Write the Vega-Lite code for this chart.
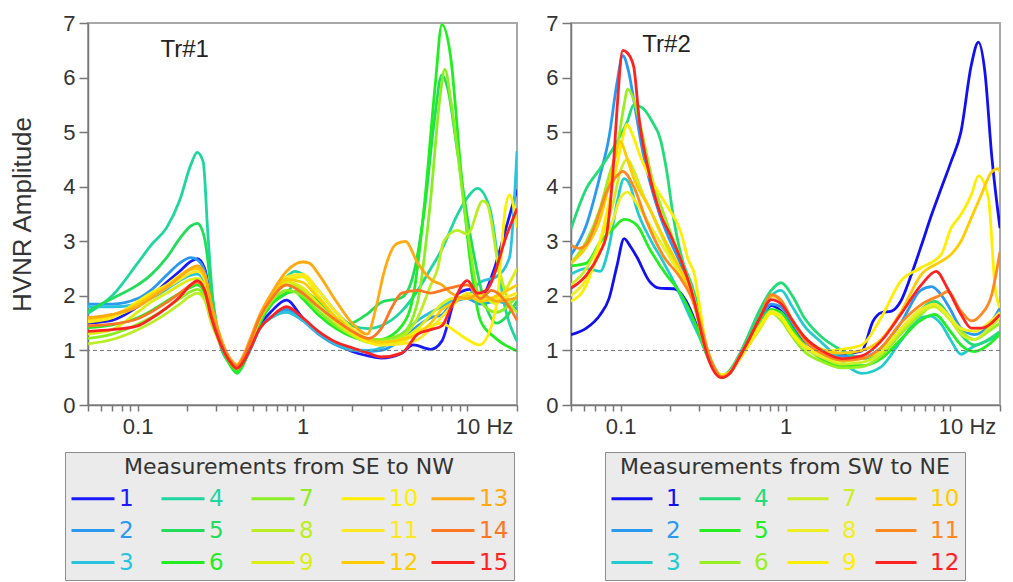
{
  "$schema": "https://vega.github.io/schema/vega-lite/v6.json",
  "background": "white",
  "padding": {"left": 8, "top": 11, "right": 5, "bottom": 0},
  "bounds": "flush",
  "spacing": 54,
  "datasets": {
    "tr1": [
      {"s":"1","f":0.05,"a":1.5},{"s":"1","f":0.07,"a":1.55},{"s":"1","f":0.1,"a":1.8},{"s":"1","f":0.12,"a":1.98},{"s":"1","f":0.15,"a":2.25},{"s":"1","f":0.18,"a":2.45},{"s":"1","f":0.21,"a":2.63},{"s":"1","f":0.23,"a":2.68},{"s":"1","f":0.255,"a":2.5},{"s":"1","f":0.28,"a":1.85},{"s":"1","f":0.31,"a":1.3},{"s":"1","f":0.37,"a":0.78},{"s":"1","f":0.4,"a":0.68},{"s":"1","f":0.44,"a":0.8},{"s":"1","f":0.48,"a":1.05},{"s":"1","f":0.55,"a":1.45},{"s":"1","f":0.65,"a":1.72},{"s":"1","f":0.8,"a":1.92},{"s":"1","f":1,"a":1.6},{"s":"1","f":1.25,"a":1.32},{"s":"1","f":1.6,"a":1.12},{"s":"1","f":2,"a":0.98},{"s":"1","f":2.5,"a":0.9},{"s":"1","f":3,"a":0.86},{"s":"1","f":4,"a":0.95},{"s":"1","f":4.7,"a":1.1},{"s":"1","f":6,"a":1.02},{"s":"1","f":7,"a":1.17},{"s":"1","f":8.7,"a":2.03},{"s":"1","f":10.4,"a":2.12},{"s":"1","f":12,"a":1.96},{"s":"1","f":14.4,"a":2.45},{"s":"1","f":17,"a":3.2},{"s":"1","f":20,"a":3.95},
      {"s":"2","f":0.05,"a":1.85},{"s":"2","f":0.07,"a":1.85},{"s":"2","f":0.1,"a":1.95},{"s":"2","f":0.12,"a":2.1},{"s":"2","f":0.15,"a":2.38},{"s":"2","f":0.18,"a":2.6},{"s":"2","f":0.21,"a":2.7},{"s":"2","f":0.23,"a":2.66},{"s":"2","f":0.255,"a":2.45},{"s":"2","f":0.28,"a":1.8},{"s":"2","f":0.31,"a":1.28},{"s":"2","f":0.37,"a":0.76},{"s":"2","f":0.4,"a":0.67},{"s":"2","f":0.44,"a":0.78},{"s":"2","f":0.48,"a":1.0},{"s":"2","f":0.55,"a":1.4},{"s":"2","f":0.65,"a":1.62},{"s":"2","f":0.8,"a":1.75},{"s":"2","f":1,"a":1.55},{"s":"2","f":1.25,"a":1.3},{"s":"2","f":1.6,"a":1.1},{"s":"2","f":2,"a":1.0},{"s":"2","f":2.5,"a":0.98},{"s":"2","f":3,"a":1.0},{"s":"2","f":4,"a":1.2},{"s":"2","f":5,"a":1.45},{"s":"2","f":6,"a":1.6},{"s":"2","f":7,"a":1.65},{"s":"2","f":8,"a":1.85},{"s":"2","f":10,"a":1.95},{"s":"2","f":12,"a":1.85},{"s":"2","f":15,"a":1.9},{"s":"2","f":20,"a":1.75},
      {"s":"3","f":0.05,"a":1.8},{"s":"3","f":0.07,"a":1.8},{"s":"3","f":0.1,"a":1.85},{"s":"3","f":0.12,"a":1.95},{"s":"3","f":0.15,"a":2.12},{"s":"3","f":0.18,"a":2.28},{"s":"3","f":0.21,"a":2.38},{"s":"3","f":0.23,"a":2.4},{"s":"3","f":0.255,"a":2.25},{"s":"3","f":0.28,"a":1.7},{"s":"3","f":0.31,"a":1.25},{"s":"3","f":0.37,"a":0.75},{"s":"3","f":0.4,"a":0.66},{"s":"3","f":0.44,"a":0.78},{"s":"3","f":0.48,"a":1.0},{"s":"3","f":0.55,"a":1.4},{"s":"3","f":0.65,"a":1.6},{"s":"3","f":0.8,"a":1.7},{"s":"3","f":1,"a":1.55},{"s":"3","f":1.25,"a":1.32},{"s":"3","f":1.6,"a":1.12},{"s":"3","f":2,"a":1.02},{"s":"3","f":2.5,"a":1.0},{"s":"3","f":3,"a":1.05},{"s":"3","f":4,"a":1.3},{"s":"3","f":5,"a":1.55},{"s":"3","f":6,"a":1.7},{"s":"3","f":7,"a":1.8},{"s":"3","f":8,"a":1.9},{"s":"3","f":10,"a":2.0},{"s":"3","f":12,"a":2.25},{"s":"3","f":15,"a":2.35},{"s":"3","f":18,"a":2.7},{"s":"3","f":20,"a":4.65},
      {"s":"4","f":0.05,"a":1.68},{"s":"4","f":0.07,"a":2.0},{"s":"4","f":0.1,"a":2.6},{"s":"4","f":0.12,"a":2.92},{"s":"4","f":0.15,"a":3.25},{"s":"4","f":0.18,"a":3.75},{"s":"4","f":0.21,"a":4.4},{"s":"4","f":0.23,"a":4.63},{"s":"4","f":0.25,"a":4.45},{"s":"4","f":0.266,"a":3.19},{"s":"4","f":0.285,"a":1.96},{"s":"4","f":0.31,"a":1.2},{"s":"4","f":0.37,"a":0.72},{"s":"4","f":0.4,"a":0.62},{"s":"4","f":0.44,"a":0.8},{"s":"4","f":0.48,"a":1.1},{"s":"4","f":0.55,"a":1.6},{"s":"4","f":0.65,"a":2.0},{"s":"4","f":0.8,"a":2.35},{"s":"4","f":0.9,"a":2.45},{"s":"4","f":1,"a":2.4},{"s":"4","f":1.25,"a":2.1},{"s":"4","f":1.6,"a":1.7},{"s":"4","f":2,"a":1.45},{"s":"4","f":2.5,"a":1.4},{"s":"4","f":3,"a":1.45},{"s":"4","f":4,"a":1.72},{"s":"4","f":5,"a":2.1},{"s":"4","f":6,"a":2.5},{"s":"4","f":7,"a":2.85},{"s":"4","f":8.7,"a":3.49},{"s":"4","f":10,"a":3.8},{"s":"4","f":11.5,"a":3.97},{"s":"4","f":13.7,"a":3.6},{"s":"4","f":16.6,"a":1.9},{"s":"4","f":20,"a":1.17},
      {"s":"5","f":0.05,"a":1.72},{"s":"5","f":0.07,"a":1.95},{"s":"5","f":0.1,"a":2.2},{"s":"5","f":0.12,"a":2.38},{"s":"5","f":0.15,"a":2.7},{"s":"5","f":0.18,"a":3.05},{"s":"5","f":0.21,"a":3.28},{"s":"5","f":0.23,"a":3.33},{"s":"5","f":0.255,"a":3.05},{"s":"5","f":0.28,"a":2.1},{"s":"5","f":0.31,"a":1.3},{"s":"5","f":0.37,"a":0.7},{"s":"5","f":0.4,"a":0.58},{"s":"5","f":0.44,"a":0.75},{"s":"5","f":0.48,"a":1.05},{"s":"5","f":0.55,"a":1.5},{"s":"5","f":0.65,"a":1.85},{"s":"5","f":0.8,"a":2.05},{"s":"5","f":0.9,"a":2.2},{"s":"5","f":1,"a":2.12},{"s":"5","f":1.25,"a":1.9},{"s":"5","f":1.6,"a":1.6},{"s":"5","f":1.87,"a":1.48},{"s":"5","f":2.5,"a":1.68},{"s":"5","f":3,"a":1.88},{"s":"5","f":4,"a":1.97},{"s":"5","f":4.8,"a":2.5},{"s":"5","f":5.5,"a":3.6},{"s":"5","f":6.3,"a":5.2},{"s":"5","f":7,"a":6.05},{"s":"5","f":7.6,"a":5.8},{"s":"5","f":8.7,"a":4.65},{"s":"5","f":10.4,"a":3.12},{"s":"5","f":13,"a":1.8},{"s":"5","f":15,"a":1.5},{"s":"5","f":17,"a":1.6},{"s":"5","f":20,"a":1.9},
      {"s":"6","f":0.05,"a":1.42},{"s":"6","f":0.07,"a":1.47},{"s":"6","f":0.1,"a":1.6},{"s":"6","f":0.12,"a":1.72},{"s":"6","f":0.15,"a":1.9},{"s":"6","f":0.18,"a":2.05},{"s":"6","f":0.21,"a":2.16},{"s":"6","f":0.23,"a":2.2},{"s":"6","f":0.255,"a":2.05},{"s":"6","f":0.28,"a":1.6},{"s":"6","f":0.31,"a":1.2},{"s":"6","f":0.37,"a":0.7},{"s":"6","f":0.4,"a":0.6},{"s":"6","f":0.44,"a":0.78},{"s":"6","f":0.48,"a":1.05},{"s":"6","f":0.55,"a":1.5},{"s":"6","f":0.65,"a":1.85},{"s":"6","f":0.8,"a":2.05},{"s":"6","f":0.9,"a":2.08},{"s":"6","f":1,"a":1.95},{"s":"6","f":1.25,"a":1.65},{"s":"6","f":1.6,"a":1.4},{"s":"6","f":2,"a":1.25},{"s":"6","f":2.5,"a":1.18},{"s":"6","f":3,"a":1.2},{"s":"6","f":4,"a":1.45},{"s":"6","f":4.7,"a":2.0},{"s":"6","f":5.5,"a":3.7},{"s":"6","f":6.4,"a":5.9},{"s":"6","f":7,"a":6.97},{"s":"6","f":7.9,"a":6.4},{"s":"6","f":9.1,"a":4.35},{"s":"6","f":10.4,"a":2.65},{"s":"6","f":12,"a":1.55},{"s":"6","f":14.5,"a":1.25},{"s":"6","f":20,"a":0.99},
      {"s":"7","f":0.05,"a":1.22},{"s":"7","f":0.07,"a":1.3},{"s":"7","f":0.1,"a":1.48},{"s":"7","f":0.12,"a":1.6},{"s":"7","f":0.15,"a":1.78},{"s":"7","f":0.18,"a":1.95},{"s":"7","f":0.21,"a":2.08},{"s":"7","f":0.23,"a":2.12},{"s":"7","f":0.255,"a":1.98},{"s":"7","f":0.28,"a":1.55},{"s":"7","f":0.31,"a":1.2},{"s":"7","f":0.37,"a":0.75},{"s":"7","f":0.4,"a":0.66},{"s":"7","f":0.44,"a":0.85},{"s":"7","f":0.48,"a":1.1},{"s":"7","f":0.55,"a":1.55},{"s":"7","f":0.65,"a":1.9},{"s":"7","f":0.8,"a":2.1},{"s":"7","f":1,"a":2.0},{"s":"7","f":1.25,"a":1.72},{"s":"7","f":1.6,"a":1.45},{"s":"7","f":2,"a":1.28},{"s":"7","f":2.5,"a":1.2},{"s":"7","f":3,"a":1.2},{"s":"7","f":4,"a":1.3},{"s":"7","f":5,"a":1.9},{"s":"7","f":6,"a":3.8},{"s":"7","f":6.8,"a":5.6},{"s":"7","f":7.3,"a":6.15},{"s":"7","f":8,"a":5.5},{"s":"7","f":10,"a":3.2},{"s":"7","f":12,"a":1.9},{"s":"7","f":15,"a":1.7},{"s":"7","f":20,"a":2.0},
      {"s":"8","f":0.05,"a":1.12},{"s":"8","f":0.07,"a":1.2},{"s":"8","f":0.1,"a":1.38},{"s":"8","f":0.12,"a":1.5},{"s":"8","f":0.15,"a":1.68},{"s":"8","f":0.18,"a":1.85},{"s":"8","f":0.21,"a":2.0},{"s":"8","f":0.23,"a":2.05},{"s":"8","f":0.255,"a":1.92},{"s":"8","f":0.28,"a":1.5},{"s":"8","f":0.31,"a":1.18},{"s":"8","f":0.37,"a":0.76},{"s":"8","f":0.4,"a":0.67},{"s":"8","f":0.44,"a":0.86},{"s":"8","f":0.48,"a":1.12},{"s":"8","f":0.55,"a":1.58},{"s":"8","f":0.65,"a":1.95},{"s":"8","f":0.8,"a":2.2},{"s":"8","f":1,"a":2.1},{"s":"8","f":1.25,"a":1.8},{"s":"8","f":1.6,"a":1.5},{"s":"8","f":2,"a":1.28},{"s":"8","f":2.5,"a":1.15},{"s":"8","f":3,"a":1.15},{"s":"8","f":4,"a":1.25},{"s":"8","f":5,"a":1.6},{"s":"8","f":6,"a":2.2},{"s":"8","f":6.6,"a":2.5},{"s":"8","f":7.2,"a":3.0},{"s":"8","f":8.7,"a":3.2},{"s":"8","f":10,"a":3.13},{"s":"8","f":12.4,"a":3.74},{"s":"8","f":13.2,"a":3.68},{"s":"8","f":15.5,"a":2.52},{"s":"8","f":17.8,"a":1.9},{"s":"8","f":20,"a":1.7},
      {"s":"9","f":0.05,"a":1.3},{"s":"9","f":0.07,"a":1.38},{"s":"9","f":0.1,"a":1.7},{"s":"9","f":0.12,"a":1.88},{"s":"9","f":0.15,"a":2.05},{"s":"9","f":0.18,"a":2.2},{"s":"9","f":0.21,"a":2.3},{"s":"9","f":0.23,"a":2.32},{"s":"9","f":0.255,"a":2.18},{"s":"9","f":0.28,"a":1.65},{"s":"9","f":0.31,"a":1.25},{"s":"9","f":0.37,"a":0.77},{"s":"9","f":0.4,"a":0.68},{"s":"9","f":0.44,"a":0.86},{"s":"9","f":0.48,"a":1.12},{"s":"9","f":0.55,"a":1.6},{"s":"9","f":0.65,"a":1.95},{"s":"9","f":0.8,"a":2.25},{"s":"9","f":1,"a":2.15},{"s":"9","f":1.25,"a":1.85},{"s":"9","f":1.6,"a":1.52},{"s":"9","f":2,"a":1.3},{"s":"9","f":2.5,"a":1.15},{"s":"9","f":3,"a":1.1},{"s":"9","f":4,"a":1.2},{"s":"9","f":5,"a":1.4},{"s":"9","f":6,"a":1.65},{"s":"9","f":7,"a":1.85},{"s":"9","f":8,"a":1.95},{"s":"9","f":10,"a":1.95},{"s":"9","f":12,"a":2.0},{"s":"9","f":15,"a":1.85},{"s":"9","f":17,"a":2.1},{"s":"9","f":20,"a":2.5},
      {"s":"10","f":0.05,"a":1.52},{"s":"10","f":0.07,"a":1.6},{"s":"10","f":0.1,"a":1.9},{"s":"10","f":0.12,"a":2.05},{"s":"10","f":0.15,"a":2.2},{"s":"10","f":0.18,"a":2.38},{"s":"10","f":0.21,"a":2.5},{"s":"10","f":0.23,"a":2.55},{"s":"10","f":0.255,"a":2.38},{"s":"10","f":0.28,"a":1.8},{"s":"10","f":0.31,"a":1.3},{"s":"10","f":0.37,"a":0.8},{"s":"10","f":0.4,"a":0.72},{"s":"10","f":0.44,"a":0.9},{"s":"10","f":0.48,"a":1.15},{"s":"10","f":0.55,"a":1.6},{"s":"10","f":0.65,"a":2.0},{"s":"10","f":0.8,"a":2.3},{"s":"10","f":1,"a":2.35},{"s":"10","f":1.25,"a":2.0},{"s":"10","f":1.6,"a":1.6},{"s":"10","f":2,"a":1.35},{"s":"10","f":2.5,"a":1.15},{"s":"10","f":3,"a":1.1},{"s":"10","f":4,"a":1.15},{"s":"10","f":5,"a":1.35},{"s":"10","f":6,"a":1.45},{"s":"10","f":7,"a":1.5},{"s":"10","f":8,"a":1.4},{"s":"10","f":10,"a":1.2},{"s":"10","f":11.8,"a":1.1},{"s":"10","f":14,"a":1.45},{"s":"10","f":15.2,"a":1.93},{"s":"10","f":17,"a":3.6},{"s":"10","f":18,"a":3.85},{"s":"10","f":20,"a":3.25},
      {"s":"11","f":0.05,"a":1.55},{"s":"11","f":0.07,"a":1.62},{"s":"11","f":0.1,"a":1.82},{"s":"11","f":0.12,"a":1.98},{"s":"11","f":0.15,"a":2.15},{"s":"11","f":0.18,"a":2.3},{"s":"11","f":0.21,"a":2.42},{"s":"11","f":0.23,"a":2.45},{"s":"11","f":0.255,"a":2.3},{"s":"11","f":0.28,"a":1.75},{"s":"11","f":0.31,"a":1.28},{"s":"11","f":0.37,"a":0.8},{"s":"11","f":0.4,"a":0.7},{"s":"11","f":0.44,"a":0.88},{"s":"11","f":0.48,"a":1.14},{"s":"11","f":0.55,"a":1.6},{"s":"11","f":0.65,"a":2.0},{"s":"11","f":0.8,"a":2.35},{"s":"11","f":1,"a":2.4},{"s":"11","f":1.25,"a":2.1},{"s":"11","f":1.6,"a":1.7},{"s":"11","f":2,"a":1.4},{"s":"11","f":2.5,"a":1.2},{"s":"11","f":3,"a":1.1},{"s":"11","f":4,"a":1.12},{"s":"11","f":5,"a":1.2},{"s":"11","f":6,"a":1.4},{"s":"11","f":8,"a":1.8},{"s":"11","f":10,"a":2.05},{"s":"11","f":12,"a":1.95},{"s":"11","f":15,"a":1.95},{"s":"11","f":20,"a":2.05},
      {"s":"12","f":0.05,"a":1.58},{"s":"12","f":0.07,"a":1.65},{"s":"12","f":0.1,"a":1.85},{"s":"12","f":0.12,"a":2.0},{"s":"12","f":0.15,"a":2.18},{"s":"12","f":0.18,"a":2.35},{"s":"12","f":0.21,"a":2.48},{"s":"12","f":0.23,"a":2.5},{"s":"12","f":0.255,"a":2.35},{"s":"12","f":0.28,"a":1.78},{"s":"12","f":0.31,"a":1.3},{"s":"12","f":0.37,"a":0.8},{"s":"12","f":0.4,"a":0.71},{"s":"12","f":0.44,"a":0.9},{"s":"12","f":0.48,"a":1.15},{"s":"12","f":0.55,"a":1.6},{"s":"12","f":0.65,"a":1.98},{"s":"12","f":0.8,"a":2.3},{"s":"12","f":1,"a":2.25},{"s":"12","f":1.25,"a":1.95},{"s":"12","f":1.6,"a":1.6},{"s":"12","f":2,"a":1.35},{"s":"12","f":2.5,"a":1.2},{"s":"12","f":3,"a":1.15},{"s":"12","f":4,"a":1.2},{"s":"12","f":5,"a":1.3},{"s":"12","f":6,"a":1.5},{"s":"12","f":7,"a":1.75},{"s":"12","f":8,"a":1.85},{"s":"12","f":10,"a":2.0},{"s":"12","f":12,"a":1.9},{"s":"12","f":15,"a":2.0},{"s":"12","f":20,"a":2.2},
      {"s":"13","f":0.05,"a":1.6},{"s":"13","f":0.07,"a":1.66},{"s":"13","f":0.1,"a":1.8},{"s":"13","f":0.12,"a":1.95},{"s":"13","f":0.15,"a":2.15},{"s":"13","f":0.18,"a":2.35},{"s":"13","f":0.21,"a":2.5},{"s":"13","f":0.23,"a":2.55},{"s":"13","f":0.255,"a":2.4},{"s":"13","f":0.28,"a":1.85},{"s":"13","f":0.31,"a":1.35},{"s":"13","f":0.37,"a":0.82},{"s":"13","f":0.4,"a":0.74},{"s":"13","f":0.44,"a":0.92},{"s":"13","f":0.48,"a":1.2},{"s":"13","f":0.55,"a":1.65},{"s":"13","f":0.65,"a":2.05},{"s":"13","f":0.8,"a":2.45},{"s":"13","f":1,"a":2.62},{"s":"13","f":1.1,"a":2.6},{"s":"13","f":1.25,"a":2.4},{"s":"13","f":1.6,"a":1.9},{"s":"13","f":2,"a":1.5},{"s":"13","f":2.47,"a":1.3},{"s":"13","f":2.8,"a":1.8},{"s":"13","f":3.1,"a":2.4},{"s":"13","f":3.7,"a":2.95},{"s":"13","f":4.2,"a":3.0},{"s":"13","f":5,"a":2.6},{"s":"13","f":6,"a":2.3},{"s":"13","f":7,"a":2.2},{"s":"13","f":8,"a":2.05},{"s":"13","f":10,"a":1.95},{"s":"13","f":12,"a":2.05},{"s":"13","f":15,"a":1.9},{"s":"13","f":20,"a":1.97},
      {"s":"14","f":0.05,"a":1.45},{"s":"14","f":0.07,"a":1.48},{"s":"14","f":0.1,"a":1.58},{"s":"14","f":0.12,"a":1.7},{"s":"14","f":0.15,"a":1.88},{"s":"14","f":0.18,"a":2.05},{"s":"14","f":0.21,"a":2.2},{"s":"14","f":0.23,"a":2.25},{"s":"14","f":0.255,"a":2.1},{"s":"14","f":0.28,"a":1.65},{"s":"14","f":0.31,"a":1.25},{"s":"14","f":0.37,"a":0.78},{"s":"14","f":0.4,"a":0.7},{"s":"14","f":0.44,"a":0.88},{"s":"14","f":0.48,"a":1.15},{"s":"14","f":0.55,"a":1.6},{"s":"14","f":0.65,"a":1.95},{"s":"14","f":0.8,"a":2.2},{"s":"14","f":1,"a":2.05},{"s":"14","f":1.25,"a":1.8},{"s":"14","f":1.6,"a":1.55},{"s":"14","f":2,"a":1.35},{"s":"14","f":2.5,"a":1.22},{"s":"14","f":3,"a":1.4},{"s":"14","f":3.5,"a":1.8},{"s":"14","f":4,"a":2.05},{"s":"14","f":5,"a":2.1},{"s":"14","f":6,"a":2.05},{"s":"14","f":7,"a":2.1},{"s":"14","f":8,"a":2.15},{"s":"14","f":10,"a":2.2},{"s":"14","f":12,"a":1.95},{"s":"14","f":14,"a":2.1},{"s":"14","f":17,"a":1.9},{"s":"14","f":20,"a":1.55},
      {"s":"15","f":0.05,"a":1.35},{"s":"15","f":0.07,"a":1.38},{"s":"15","f":0.1,"a":1.45},{"s":"15","f":0.12,"a":1.58},{"s":"15","f":0.15,"a":1.78},{"s":"15","f":0.18,"a":1.98},{"s":"15","f":0.21,"a":2.2},{"s":"15","f":0.23,"a":2.28},{"s":"15","f":0.255,"a":2.1},{"s":"15","f":0.28,"a":1.6},{"s":"15","f":0.31,"a":1.2},{"s":"15","f":0.37,"a":0.76},{"s":"15","f":0.4,"a":0.67},{"s":"15","f":0.44,"a":0.8},{"s":"15","f":0.48,"a":1.02},{"s":"15","f":0.55,"a":1.4},{"s":"15","f":0.65,"a":1.62},{"s":"15","f":0.8,"a":1.8},{"s":"15","f":1,"a":1.6},{"s":"15","f":1.25,"a":1.35},{"s":"15","f":1.6,"a":1.15},{"s":"15","f":2,"a":1.05},{"s":"15","f":2.5,"a":0.95},{"s":"15","f":3,"a":0.88},{"s":"15","f":4,"a":0.95},{"s":"15","f":5,"a":1.3},{"s":"15","f":6,"a":1.38},{"s":"15","f":7,"a":1.45},{"s":"15","f":8,"a":1.8},{"s":"15","f":10,"a":2.28},{"s":"15","f":11.5,"a":2.05},{"s":"15","f":13,"a":2.1},{"s":"15","f":17.5,"a":3.15},{"s":"15","f":20,"a":3.6}
    ],
    "tr2": [
      {"s":"1","f":0.05,"a":1.29},{"s":"1","f":0.062,"a":1.41},{"s":"1","f":0.075,"a":1.65},{"s":"1","f":0.085,"a":1.95},{"s":"1","f":0.095,"a":2.55},{"s":"1","f":0.105,"a":3.05},{"s":"1","f":0.115,"a":2.9},{"s":"1","f":0.125,"a":2.72},{"s":"1","f":0.15,"a":2.26},{"s":"1","f":0.172,"a":2.14},{"s":"1","f":0.21,"a":2.13},{"s":"1","f":0.25,"a":1.9},{"s":"1","f":0.29,"a":1.45},{"s":"1","f":0.33,"a":0.98},{"s":"1","f":0.37,"a":0.66},{"s":"1","f":0.41,"a":0.52},{"s":"1","f":0.46,"a":0.6},{"s":"1","f":0.52,"a":0.82},{"s":"1","f":0.6,"a":1.15},{"s":"1","f":0.7,"a":1.5},{"s":"1","f":0.82,"a":1.82},{"s":"1","f":0.94,"a":1.72},{"s":"1","f":1.1,"a":1.45},{"s":"1","f":1.3,"a":1.18},{"s":"1","f":1.65,"a":0.98},{"s":"1","f":2.2,"a":0.93},{"s":"1","f":2.9,"a":0.99},{"s":"1","f":3.4,"a":1.54},{"s":"1","f":3.8,"a":1.69},{"s":"1","f":4.4,"a":1.72},{"s":"1","f":5,"a":1.9},{"s":"1","f":5.8,"a":2.39},{"s":"1","f":6.7,"a":2.94},{"s":"1","f":7.7,"a":3.49},{"s":"1","f":8.8,"a":3.97},{"s":"1","f":10.1,"a":4.46},{"s":"1","f":11.6,"a":5.01},{"s":"1","f":13.4,"a":6.23},{"s":"1","f":14.8,"a":6.65},{"s":"1","f":16.2,"a":6.1},{"s":"1","f":17.8,"a":4.58},{"s":"1","f":20,"a":3.24},
      {"s":"2","f":0.05,"a":2.75},{"s":"2","f":0.062,"a":3.3},{"s":"2","f":0.075,"a":4.2},{"s":"2","f":0.085,"a":4.9},{"s":"2","f":0.095,"a":5.9},{"s":"2","f":0.103,"a":6.4},{"s":"2","f":0.112,"a":6.1},{"s":"2","f":0.12,"a":5.6},{"s":"2","f":0.135,"a":4.7},{"s":"2","f":0.15,"a":4.1},{"s":"2","f":0.172,"a":3.5},{"s":"2","f":0.2,"a":3.0},{"s":"2","f":0.23,"a":2.6},{"s":"2","f":0.26,"a":2.15},{"s":"2","f":0.3,"a":1.5},{"s":"2","f":0.33,"a":1.0},{"s":"2","f":0.37,"a":0.66},{"s":"2","f":0.41,"a":0.52},{"s":"2","f":0.46,"a":0.6},{"s":"2","f":0.52,"a":0.85},{"s":"2","f":0.6,"a":1.2},{"s":"2","f":0.7,"a":1.55},{"s":"2","f":0.82,"a":1.85},{"s":"2","f":0.94,"a":1.8},{"s":"2","f":1.1,"a":1.5},{"s":"2","f":1.3,"a":1.2},{"s":"2","f":1.65,"a":1.0},{"s":"2","f":2.2,"a":0.9},{"s":"2","f":2.9,"a":0.88},{"s":"2","f":3.8,"a":1.05},{"s":"2","f":5,"a":1.5},{"s":"2","f":6.6,"a":2.1},{"s":"2","f":7.7,"a":2.17},{"s":"2","f":8.8,"a":2.02},{"s":"2","f":10,"a":1.75},{"s":"2","f":11.6,"a":1.41},{"s":"2","f":14,"a":1.29},{"s":"2","f":17,"a":1.45},{"s":"2","f":20,"a":1.78},
      {"s":"3","f":0.05,"a":2.4},{"s":"3","f":0.062,"a":2.5},{"s":"3","f":0.075,"a":2.45},{"s":"3","f":0.085,"a":2.9},{"s":"3","f":0.095,"a":3.7},{"s":"3","f":0.105,"a":4.15},{"s":"3","f":0.115,"a":4.0},{"s":"3","f":0.125,"a":3.6},{"s":"3","f":0.15,"a":3.06},{"s":"3","f":0.18,"a":2.64},{"s":"3","f":0.22,"a":2.14},{"s":"3","f":0.26,"a":1.65},{"s":"3","f":0.3,"a":1.25},{"s":"3","f":0.33,"a":0.95},{"s":"3","f":0.37,"a":0.65},{"s":"3","f":0.41,"a":0.52},{"s":"3","f":0.46,"a":0.62},{"s":"3","f":0.52,"a":0.88},{"s":"3","f":0.6,"a":1.25},{"s":"3","f":0.7,"a":1.65},{"s":"3","f":0.82,"a":2.0},{"s":"3","f":0.94,"a":2.1},{"s":"3","f":1.1,"a":1.8},{"s":"3","f":1.3,"a":1.45},{"s":"3","f":1.65,"a":1.15},{"s":"3","f":2.2,"a":0.8},{"s":"3","f":2.9,"a":0.58},{"s":"3","f":3.8,"a":0.7},{"s":"3","f":5,"a":1.17},{"s":"3","f":6.6,"a":1.6},{"s":"3","f":7.6,"a":1.63},{"s":"3","f":8.8,"a":1.48},{"s":"3","f":10,"a":1.2},{"s":"3","f":11.6,"a":0.93},{"s":"3","f":13.4,"a":1.05},{"s":"3","f":16,"a":1.15},{"s":"3","f":20,"a":1.29},
      {"s":"4","f":0.05,"a":3.23},{"s":"4","f":0.062,"a":3.97},{"s":"4","f":0.075,"a":4.33},{"s":"4","f":0.09,"a":4.7},{"s":"4","f":0.1,"a":4.95},{"s":"4","f":0.11,"a":5.2},{"s":"4","f":0.12,"a":5.5},{"s":"4","f":0.135,"a":5.45},{"s":"4","f":0.155,"a":5.2},{"s":"4","f":0.175,"a":4.85},{"s":"4","f":0.19,"a":4.3},{"s":"4","f":0.21,"a":3.4},{"s":"4","f":0.24,"a":2.6},{"s":"4","f":0.27,"a":2.2},{"s":"4","f":0.3,"a":1.7},{"s":"4","f":0.33,"a":1.1},{"s":"4","f":0.37,"a":0.7},{"s":"4","f":0.41,"a":0.54},{"s":"4","f":0.46,"a":0.64},{"s":"4","f":0.52,"a":0.9},{"s":"4","f":0.6,"a":1.3},{"s":"4","f":0.7,"a":1.75},{"s":"4","f":0.82,"a":2.1},{"s":"4","f":0.94,"a":2.24},{"s":"4","f":1.1,"a":2.0},{"s":"4","f":1.3,"a":1.6},{"s":"4","f":1.65,"a":1.25},{"s":"4","f":2.2,"a":1.0},{"s":"4","f":2.9,"a":0.85},{"s":"4","f":3.8,"a":0.95},{"s":"4","f":5,"a":1.35},{"s":"4","f":6.6,"a":1.75},{"s":"4","f":8,"a":1.9},{"s":"4","f":10,"a":1.6},{"s":"4","f":11.6,"a":1.29},{"s":"4","f":14,"a":1.1},{"s":"4","f":17,"a":1.2},{"s":"4","f":20,"a":1.35},
      {"s":"5","f":0.05,"a":2.55},{"s":"5","f":0.062,"a":2.6},{"s":"5","f":0.075,"a":2.98},{"s":"5","f":0.09,"a":3.23},{"s":"5","f":0.105,"a":3.4},{"s":"5","f":0.125,"a":3.3},{"s":"5","f":0.15,"a":2.86},{"s":"5","f":0.19,"a":2.38},{"s":"5","f":0.22,"a":2.14},{"s":"5","f":0.26,"a":1.75},{"s":"5","f":0.3,"a":1.3},{"s":"5","f":0.33,"a":0.95},{"s":"5","f":0.37,"a":0.65},{"s":"5","f":0.41,"a":0.5},{"s":"5","f":0.46,"a":0.58},{"s":"5","f":0.52,"a":0.82},{"s":"5","f":0.6,"a":1.15},{"s":"5","f":0.7,"a":1.5},{"s":"5","f":0.82,"a":1.75},{"s":"5","f":0.94,"a":1.7},{"s":"5","f":1.1,"a":1.4},{"s":"5","f":1.3,"a":1.1},{"s":"5","f":1.65,"a":0.85},{"s":"5","f":2.2,"a":0.72},{"s":"5","f":2.9,"a":0.72},{"s":"5","f":3.8,"a":0.85},{"s":"5","f":5,"a":1.2},{"s":"5","f":6.6,"a":1.55},{"s":"5","f":8,"a":1.66},{"s":"5","f":10,"a":1.35},{"s":"5","f":11.6,"a":1.1},{"s":"5","f":14,"a":0.98},{"s":"5","f":17,"a":1.1},{"s":"5","f":20,"a":1.3},
      {"s":"6","f":0.05,"a":2.6},{"s":"6","f":0.062,"a":3.0},{"s":"6","f":0.075,"a":3.6},{"s":"6","f":0.085,"a":4.2},{"s":"6","f":0.095,"a":4.7},{"s":"6","f":0.105,"a":5.5},{"s":"6","f":0.11,"a":5.79},{"s":"6","f":0.12,"a":5.6},{"s":"6","f":0.13,"a":5.2},{"s":"6","f":0.155,"a":4.16},{"s":"6","f":0.19,"a":3.36},{"s":"6","f":0.23,"a":2.7},{"s":"6","f":0.27,"a":2.1},{"s":"6","f":0.3,"a":1.5},{"s":"6","f":0.33,"a":1.0},{"s":"6","f":0.37,"a":0.68},{"s":"6","f":0.41,"a":0.53},{"s":"6","f":0.46,"a":0.6},{"s":"6","f":0.52,"a":0.82},{"s":"6","f":0.6,"a":1.1},{"s":"6","f":0.7,"a":1.4},{"s":"6","f":0.82,"a":1.69},{"s":"6","f":0.94,"a":1.55},{"s":"6","f":1.1,"a":1.25},{"s":"6","f":1.3,"a":0.98},{"s":"6","f":1.65,"a":0.8},{"s":"6","f":2.2,"a":0.68},{"s":"6","f":2.9,"a":0.7},{"s":"6","f":3.8,"a":0.9},{"s":"6","f":5,"a":1.3},{"s":"6","f":6.6,"a":1.65},{"s":"6","f":8,"a":1.84},{"s":"6","f":10,"a":1.6},{"s":"6","f":11.6,"a":1.35},{"s":"6","f":14,"a":1.2},{"s":"6","f":17,"a":1.35},{"s":"6","f":20,"a":1.5},
      {"s":"7","f":0.05,"a":2.2},{"s":"7","f":0.062,"a":2.5},{"s":"7","f":0.075,"a":3.0},{"s":"7","f":0.09,"a":3.7},{"s":"7","f":0.1,"a":4.3},{"s":"7","f":0.11,"a":4.5},{"s":"7","f":0.12,"a":4.3},{"s":"7","f":0.135,"a":3.9},{"s":"7","f":0.155,"a":3.5},{"s":"7","f":0.19,"a":2.9},{"s":"7","f":0.23,"a":2.4},{"s":"7","f":0.27,"a":2.0},{"s":"7","f":0.3,"a":1.45},{"s":"7","f":0.33,"a":0.98},{"s":"7","f":0.37,"a":0.66},{"s":"7","f":0.41,"a":0.52},{"s":"7","f":0.46,"a":0.6},{"s":"7","f":0.52,"a":0.83},{"s":"7","f":0.6,"a":1.12},{"s":"7","f":0.7,"a":1.42},{"s":"7","f":0.82,"a":1.7},{"s":"7","f":0.94,"a":1.6},{"s":"7","f":1.1,"a":1.3},{"s":"7","f":1.3,"a":1.05},{"s":"7","f":1.65,"a":0.88},{"s":"7","f":2.2,"a":0.75},{"s":"7","f":2.9,"a":0.78},{"s":"7","f":3.8,"a":0.95},{"s":"7","f":5,"a":1.35},{"s":"7","f":6.6,"a":1.7},{"s":"7","f":8,"a":1.8},{"s":"7","f":10,"a":1.55},{"s":"7","f":11.6,"a":1.3},{"s":"7","f":14,"a":1.2},{"s":"7","f":17,"a":1.4},{"s":"7","f":20,"a":1.6},
      {"s":"8","f":0.05,"a":2.0},{"s":"8","f":0.062,"a":2.3},{"s":"8","f":0.075,"a":2.8},{"s":"8","f":0.09,"a":3.4},{"s":"8","f":0.1,"a":3.8},{"s":"8","f":0.11,"a":3.9},{"s":"8","f":0.125,"a":3.7},{"s":"8","f":0.15,"a":3.3},{"s":"8","f":0.19,"a":2.8},{"s":"8","f":0.23,"a":2.4},{"s":"8","f":0.27,"a":2.1},{"s":"8","f":0.3,"a":1.55},{"s":"8","f":0.33,"a":1.0},{"s":"8","f":0.37,"a":0.66},{"s":"8","f":0.41,"a":0.52},{"s":"8","f":0.46,"a":0.6},{"s":"8","f":0.52,"a":0.85},{"s":"8","f":0.6,"a":1.15},{"s":"8","f":0.7,"a":1.45},{"s":"8","f":0.82,"a":1.72},{"s":"8","f":0.94,"a":1.62},{"s":"8","f":1.1,"a":1.32},{"s":"8","f":1.3,"a":1.08},{"s":"8","f":1.65,"a":0.9},{"s":"8","f":2.2,"a":0.8},{"s":"8","f":2.9,"a":0.85},{"s":"8","f":3.8,"a":1.0},{"s":"8","f":5,"a":1.4},{"s":"8","f":6.6,"a":1.75},{"s":"8","f":8,"a":1.85},{"s":"8","f":10,"a":1.6},{"s":"8","f":11.6,"a":1.4},{"s":"8","f":14,"a":1.35},{"s":"8","f":17,"a":1.5},{"s":"8","f":20,"a":1.7},
      {"s":"9","f":0.05,"a":1.9},{"s":"9","f":0.062,"a":2.2},{"s":"9","f":0.075,"a":3.0},{"s":"9","f":0.085,"a":3.7},{"s":"9","f":0.095,"a":4.4},{"s":"9","f":0.103,"a":4.9},{"s":"9","f":0.109,"a":5.14},{"s":"9","f":0.12,"a":4.9},{"s":"9","f":0.13,"a":4.6},{"s":"9","f":0.155,"a":4.1},{"s":"9","f":0.19,"a":3.66},{"s":"9","f":0.23,"a":3.2},{"s":"9","f":0.258,"a":2.65},{"s":"9","f":0.28,"a":2.4},{"s":"9","f":0.3,"a":1.85},{"s":"9","f":0.32,"a":1.3},{"s":"9","f":0.36,"a":0.75},{"s":"9","f":0.41,"a":0.55},{"s":"9","f":0.46,"a":0.6},{"s":"9","f":0.52,"a":0.82},{"s":"9","f":0.6,"a":1.1},{"s":"9","f":0.7,"a":1.42},{"s":"9","f":0.82,"a":1.68},{"s":"9","f":0.94,"a":1.6},{"s":"9","f":1.1,"a":1.3},{"s":"9","f":1.3,"a":1.08},{"s":"9","f":1.65,"a":0.98},{"s":"9","f":2.2,"a":1.02},{"s":"9","f":2.9,"a":1.1},{"s":"9","f":3.8,"a":1.6},{"s":"9","f":5,"a":2.27},{"s":"9","f":6.6,"a":2.51},{"s":"9","f":8.8,"a":2.76},{"s":"9","f":10.1,"a":3.24},{"s":"9","f":11.6,"a":3.49},{"s":"9","f":13.4,"a":3.85},{"s":"9","f":14.8,"a":4.2},{"s":"9","f":17,"a":3.8},{"s":"9","f":18.7,"a":2.14},{"s":"9","f":20,"a":1.78},
      {"s":"10","f":0.05,"a":2.6},{"s":"10","f":0.062,"a":2.9},{"s":"10","f":0.075,"a":3.4},{"s":"10","f":0.082,"a":3.84},{"s":"10","f":0.092,"a":4.5},{"s":"10","f":0.099,"a":4.83},{"s":"10","f":0.11,"a":4.5},{"s":"10","f":0.12,"a":4.16},{"s":"10","f":0.15,"a":3.6},{"s":"10","f":0.18,"a":3.1},{"s":"10","f":0.22,"a":2.6},{"s":"10","f":0.26,"a":2.15},{"s":"10","f":0.3,"a":1.6},{"s":"10","f":0.33,"a":1.05},{"s":"10","f":0.37,"a":0.68},{"s":"10","f":0.41,"a":0.52},{"s":"10","f":0.46,"a":0.6},{"s":"10","f":0.52,"a":0.85},{"s":"10","f":0.6,"a":1.2},{"s":"10","f":0.7,"a":1.6},{"s":"10","f":0.82,"a":2.0},{"s":"10","f":0.94,"a":1.9},{"s":"10","f":1.1,"a":1.55},{"s":"10","f":1.3,"a":1.25},{"s":"10","f":1.65,"a":1.02},{"s":"10","f":2.2,"a":0.95},{"s":"10","f":2.9,"a":1.0},{"s":"10","f":3.8,"a":1.2},{"s":"10","f":5,"a":1.7},{"s":"10","f":6.66,"a":2.39},{"s":"10","f":8.8,"a":2.63},{"s":"10","f":10.1,"a":2.76},{"s":"10","f":11.6,"a":3.0},{"s":"10","f":13.4,"a":3.43},{"s":"10","f":15.4,"a":3.85},{"s":"10","f":17.8,"a":4.27},{"s":"10","f":19.5,"a":4.33},{"s":"10","f":20,"a":4.27},
      {"s":"11","f":0.05,"a":2.93},{"s":"11","f":0.056,"a":2.87},{"s":"11","f":0.062,"a":2.95},{"s":"11","f":0.07,"a":3.3},{"s":"11","f":0.082,"a":3.9},{"s":"11","f":0.095,"a":4.2},{"s":"11","f":0.103,"a":4.28},{"s":"11","f":0.12,"a":4.0},{"s":"11","f":0.144,"a":3.36},{"s":"11","f":0.18,"a":2.75},{"s":"11","f":0.23,"a":2.33},{"s":"11","f":0.28,"a":1.84},{"s":"11","f":0.31,"a":1.4},{"s":"11","f":0.34,"a":0.95},{"s":"11","f":0.37,"a":0.68},{"s":"11","f":0.41,"a":0.52},{"s":"11","f":0.46,"a":0.6},{"s":"11","f":0.52,"a":0.86},{"s":"11","f":0.6,"a":1.2},{"s":"11","f":0.7,"a":1.6},{"s":"11","f":0.82,"a":2.02},{"s":"11","f":0.94,"a":1.92},{"s":"11","f":1.1,"a":1.55},{"s":"11","f":1.3,"a":1.2},{"s":"11","f":1.65,"a":0.95},{"s":"11","f":2.2,"a":0.82},{"s":"11","f":2.9,"a":0.85},{"s":"11","f":3.8,"a":1.05},{"s":"11","f":5,"a":1.5},{"s":"11","f":6.66,"a":1.84},{"s":"11","f":8.8,"a":2.02},{"s":"11","f":9.6,"a":2.08},{"s":"11","f":11.6,"a":1.72},{"s":"11","f":13.4,"a":1.54},{"s":"11","f":15.4,"a":1.66},{"s":"11","f":17.8,"a":2.02},{"s":"11","f":20,"a":2.81},
      {"s":"12","f":0.05,"a":2.14},{"s":"12","f":0.062,"a":2.38},{"s":"12","f":0.075,"a":2.8},{"s":"12","f":0.082,"a":3.11},{"s":"12","f":0.09,"a":4.3},{"s":"12","f":0.095,"a":5.4},{"s":"12","f":0.103,"a":6.5},{"s":"12","f":0.11,"a":6.45},{"s":"12","f":0.12,"a":6.2},{"s":"12","f":0.13,"a":5.2},{"s":"12","f":0.145,"a":4.4},{"s":"12","f":0.177,"a":3.45},{"s":"12","f":0.2,"a":3.12},{"s":"12","f":0.234,"a":2.63},{"s":"12","f":0.28,"a":1.9},{"s":"12","f":0.31,"a":1.3},{"s":"12","f":0.34,"a":0.85},{"s":"12","f":0.41,"a":0.5},{"s":"12","f":0.46,"a":0.58},{"s":"12","f":0.52,"a":0.85},{"s":"12","f":0.6,"a":1.2},{"s":"12","f":0.7,"a":1.6},{"s":"12","f":0.82,"a":1.93},{"s":"12","f":0.94,"a":1.85},{"s":"12","f":1.1,"a":1.55},{"s":"12","f":1.3,"a":1.25},{"s":"12","f":1.65,"a":1.0},{"s":"12","f":2.2,"a":0.85},{"s":"12","f":2.9,"a":0.9},{"s":"12","f":3.8,"a":1.17},{"s":"12","f":5,"a":1.66},{"s":"12","f":6.66,"a":2.2},{"s":"12","f":8.2,"a":2.45},{"s":"12","f":9.6,"a":2.14},{"s":"12","f":11.6,"a":1.66},{"s":"12","f":13.4,"a":1.41},{"s":"12","f":15.4,"a":1.41},{"s":"12","f":20,"a":1.66}
    ]
  },
  "hconcat": [
    {
      "width": 429,
      "height": 382,
      "layer": [
        {
          "data": {"name": "tr1"},
          "mark": {"type": "line", "interpolate": "monotone", "strokeWidth": 2.8, "clip": true},
          "encoding": {
            "x": {"field": "f", "type": "quantitative", "scale": {"type": "log", "domain": [0.05, 20], "nice": false},
              "axis": {"title": null, "values": [0.05,0.06,0.07,0.08,0.09,0.1,0.2,0.3,0.4,0.5,0.6,0.7,0.8,0.9,1,2,3,4,5,6,7,8,9,10,20],
                "labelExpr": "datum.value == 0.1 ? '0.1' : datum.value == 1 ? '1' : datum.value == 10 ? '10 Hz' : ''",
                "labelAlign": {"condition": {"test": "datum.value == 10", "value": "left"}, "value": "center"},
                "labelOffset": {"condition": {"test": "datum.value == 10", "value": -12}, "value": 0},
                "tickSize": 6, "labelPadding": 5}},
            "y": {"field": "a", "type": "quantitative", "scale": {"domain": [0, 7], "nice": false},
              "axis": {"title": "HVNR Amplitude", "values": [0,0.5,1,1.5,2,2.5,3,3.5,4,4.5,5,5.5,6,6.5,7],
                "labelExpr": "datum.value % 1 == 0 ? format(datum.value, 'd') : ''",
                "tickSize": {"condition": {"test": "datum.value % 1 == 0", "value": 9}, "value": 4},
                "titleFontSize": 26, "titlePadding": 27, "labelPadding": 4}},
            "color": {"field": "s", "type": "nominal",
              "scale": {"domain": ["1","4","7","10","13","2","5","8","11","14","3","6","9","12","15"],
                "range": ["#1a1aff","#1fd6a0","#8aee22","#ffee00","#ffaa11","#2a9af0","#22dd5a","#bbee22","#ffe820","#ff7722","#29c3e0","#20ee20","#ddee11","#ffcc00","#ff2222"]},
              "legend": {"title": "Measurements from SE to NW", "legendX": -23, "legendY": 429, "columns": 5,
                "symbolSize": 1849, "labelOffset": 3, "columnPadding": 11,
                "labelColor": {"expr": "['#1a1aff','#2a9af0','#29c3e0','#1fd6a0','#22dd5a','#20ee20','#8aee22','#bbee22','#ddee11','#ffee00','#ffe820','#ffcc00','#ffaa11','#ff7722','#ff2222'][toNumber(datum.value)-1]"}}}
          }
        },
        {
          "data": {"values": [{}]},
          "mark": {"type": "rule", "strokeDash": [4, 3], "color": "#777", "strokeWidth": 1},
          "encoding": {"y": {"datum": 1}}
        },
        {
          "data": {"values": [{}]},
          "mark": {"type": "text", "fontSize": 24, "font": "Liberation Sans", "color": "#222", "align": "center", "baseline": "middle"},
          "encoding": {"x": {"datum": 0.193}, "y": {"datum": 6.5}, "text": {"value": "Tr#1"}}
        }
      ]
    },
    {
      "width": 429,
      "height": 382,
      "layer": [
        {
          "data": {"name": "tr2"},
          "mark": {"type": "line", "interpolate": "monotone", "strokeWidth": 2.8, "clip": true},
          "encoding": {
            "x": {"field": "f", "type": "quantitative", "scale": {"type": "log", "domain": [0.05, 20], "nice": false},
              "axis": {"title": null, "values": [0.05,0.06,0.07,0.08,0.09,0.1,0.2,0.3,0.4,0.5,0.6,0.7,0.8,0.9,1,2,3,4,5,6,7,8,9,10,20],
                "labelExpr": "datum.value == 0.1 ? '0.1' : datum.value == 1 ? '1' : datum.value == 10 ? '10 Hz' : ''",
                "labelAlign": {"condition": {"test": "datum.value == 10", "value": "left"}, "value": "center"},
                "labelOffset": {"condition": {"test": "datum.value == 10", "value": -12}, "value": 0},
                "tickSize": 6, "labelPadding": 5}},
            "y": {"field": "a", "type": "quantitative", "scale": {"domain": [0, 7], "nice": false},
              "axis": {"title": null, "values": [0,0.5,1,1.5,2,2.5,3,3.5,4,4.5,5,5.5,6,6.5,7],
                "labelExpr": "datum.value % 1 == 0 ? format(datum.value, 'd') : ''",
                "tickSize": {"condition": {"test": "datum.value % 1 == 0", "value": 9}, "value": 4},
                "labelPadding": 4}},
            "color": {"field": "s", "type": "nominal",
              "scale": {"domain": ["1","4","7","10","2","5","8","11","3","6","9","12"],
                "range": ["#1010f0","#22dd77","#ccee22","#ffcc00","#2a9af0","#22ee22","#eeee22","#ff8822","#22cccc","#99ee22","#ffee00","#ff2222"]},
              "legend": {"title": "Measurements from SW to NE", "legendX": 34, "legendY": 429, "columns": 4,
                "symbolSize": 1681, "labelOffset": 12, "columnPadding": 2,
                "labelColor": {"expr": "['#1010f0','#2a9af0','#22cccc','#22dd77','#22ee22','#99ee22','#ccee22','#eeee22','#ffee00','#ffcc00','#ff8822','#ff2222'][toNumber(datum.value)-1]"}}}
          }
        },
        {
          "data": {"values": [{}]},
          "mark": {"type": "rule", "strokeDash": [4, 3], "color": "#777", "strokeWidth": 1},
          "encoding": {"y": {"datum": 1}}
        },
        {
          "data": {"values": [{}]},
          "mark": {"type": "text", "fontSize": 24, "font": "Liberation Sans", "color": "#222", "align": "center", "baseline": "middle"},
          "encoding": {"x": {"datum": 0.19}, "y": {"datum": 6.6}, "text": {"value": "Tr#2"}}
        }
      ]
    }
  ],
  "resolve": {"scale": {"color": "independent", "x": "independent", "y": "independent"}, "legend": {"color": "independent"}},
  "config": {
    "font": "Liberation Sans",
    "view": {"stroke": "#a8a8a8", "strokeWidth": 2},
    "axis": {"labelFont": "Liberation Sans", "labelFontSize": 22, "labelColor": "#333", "domainColor": "#777", "tickColor": "#777",
      "domainWidth": 1.5, "tickWidth": 1.5, "grid": false, "labelOverlap": false, "labelFlush": false,
      "titleFont": "Liberation Sans", "titleFontWeight": "normal", "titleColor": "#333"},
    "legend": {"orient": "none", "direction": "horizontal", "gridAlign": "all", "symbolType": "stroke", "symbolStrokeWidth": 3,
      "labelFont": "DejaVu Sans", "labelFontSize": 23, "labelLimit": 0,
      "titleFont": "DejaVu Sans", "titleFontSize": 22, "titleFontWeight": "normal", "titleColor": "#333", "titleAnchor": "middle",
      "titlePadding": 8, "titleLimit": 0, "padding": 5, "fillColor": "#ebebeb", "strokeColor": "#8c8c8c",
      "rowPadding": 8, "clipHeight": 23}
  }
}
